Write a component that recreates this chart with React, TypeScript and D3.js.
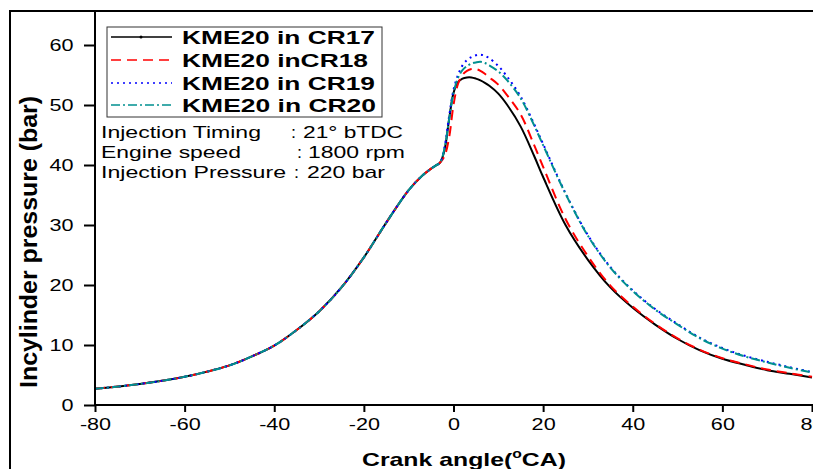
import React, { useRef, useEffect } from "react";
import * as d3 from "d3";

// crank angle (deg CA)
const angles = [
  -80, -70, -60, -50, -45, -40, -35, -30, -25, -20, -15, -10, -7, -5, -4, -3, -2, -1, 0, 1, 2, 3, 4, 5, 6, 7, 8,
  10, 12, 15, 18, 20, 25, 30, 35, 40, 45, 50, 55, 60, 65, 70, 75, 80,
];

// compression part, same for all (-80 .. -3)
const compression = [2.7, 3.5, 4.7, 6.6, 8.1, 9.9, 12.5, 15.6, 19.6, 24.6, 30.4, 35.8, 38.2, 39.4, 39.9, 40.4];

const cr17 = [42.5, 47.5, 52, 53.8, 54.4, 54.6, 54.6, 54.4, 54.1, 53.7, 53.2, 51.9, 50, 46.4, 41.5, 38, 30, 24.2, 19.6, 16.2, 13.4, 11, 9.1, 7.7, 6.7, 5.8, 5.2, 4.6];
const cr18 = [41.5, 44.5, 50, 53.5, 55, 55.7, 56, 56, 55.7, 55.2, 54.6, 53.4, 51.6, 48.4, 43.3, 39.7, 31, 24.8, 19.9, 16.4, 13.5, 11.1, 9.2, 7.8, 6.8, 5.9, 5.3, 4.7];
const cr19 = [43, 48, 52.5, 55, 56.6, 57.5, 58, 58.3, 58.4, 58.2, 57.8, 56.5, 54.7, 51.4, 46.8, 43.5, 35.3, 28.3, 23, 19.1, 16, 13.5, 11.2, 9.5, 8.2, 7.2, 6.3, 5.5];
const cr20 = [42.8, 47.5, 52, 54.5, 55.8, 56.5, 56.9, 57.1, 57.2, 57, 56.6, 55.6, 54.1, 51.1, 46.6, 43.3, 35.2, 28.2, 22.9, 19, 15.9, 13.4, 11.1, 9.4, 8.1, 7.1, 6.2, 5.4];

const seriesNames = ["KME20 in CR17", "KME20 inCR18", "KME20 in CR19", "KME20 in CR20"];
const seriesValues = [cr17, cr18, cr19, cr20];
const seriesColors = ["#000000", "#ff0000", "#0000ff", "#009090"];
const seriesDash = ["none", "10,6", "2,4", "9,3,2,3"];
const legendLengths = [193, 186, 193, 194];

const xTicks = [-80, -60, -40, -20, 0, 20, 40, 60, 80];
const yTicks = [0, 10, 20, 30, 40, 50, 60];

const App = () => {
  const ref = useRef<SVGSVGElement>(null);
  const width = 813;
  const height = 469;

  useEffect(() => {
    const svg = d3.select(ref.current);
    svg.selectAll("*").remove();

    const x = d3.scaleLinear().domain([-80, 80]).range([95, 812]);
    const y = d3.scaleLinear().domain([0, 65]).range([405, 15]);
    const sx = 1.35; // picture is stretched sideways

    // frame
    svg
      .append("path")
      .attr("d", `M10,${height + 5}V11H${width + 5}`)
      .attr("fill", "none")
      .attr("stroke", "#000")
      .attr("stroke-width", 2);

    // curves
    const line = d3
      .line<[number, number]>()
      .x((d) => x(d[0]))
      .y((d) => y(d[1]))
      .curve(d3.curveCatmullRom.alpha(0.5));

    seriesValues.forEach((vals, i) => {
      const all = compression.concat(vals);
      const pts = angles.map((a, j) => [a, all[j]] as [number, number]);
      svg
        .append("path")
        .attr("d", line(pts))
        .attr("fill", "none")
        .attr("stroke", seriesColors[i])
        .attr("stroke-width", 2)
        .attr("stroke-dasharray", seriesDash[i]);
    });

    // x axis
    const gx = svg.append("g").attr("transform", "translate(0,405)");
    gx.call(
      d3.axisBottom(x).tickValues(d3.range(-70, 80, 20)).tickSize(4).tickFormat(() => "")
    );
    gx.call(
      d3.axisBottom(x).tickValues(xTicks).tickSize(7).tickPadding(7).tickFormat((d) => String(d))
    );
    gx.selectAll(".domain").attr("d", "M95,0H813").attr("stroke-width", 2);
    gx.selectAll("line").attr("stroke-width", 2);
    gx.selectAll("text")
      .attr("font-family", "Arial, 'Liberation Sans', sans-serif")
      .attr("font-size", 16)
      .attr("fill", "#000")
      .attr("transform", `scale(${sx},1)`);

    // y axis
    const gy = svg.append("g").attr("transform", "translate(95,0)");
    gy.call(
      d3.axisLeft(y).tickValues(d3.range(5, 65, 10)).tickSize(6).tickFormat(() => "")
    );
    gy.call(
      d3.axisLeft(y).tickValues(yTicks).tickSize(11).tickPadding(5).tickFormat((d) => String(d))
    );
    gy.selectAll(".domain").attr("d", "M0,406V11").attr("stroke-width", 2);
    gy.selectAll("line").attr("stroke-width", 2);
    gy.selectAll("text")
      .attr("font-family", "Arial, 'Liberation Sans', sans-serif")
      .attr("font-size", 16)
      .attr("fill", "#000")
      .attr("transform", `scale(${sx},1)`);

    // axis titles
    const xt = svg
      .append("text")
      .attr("x", 362)
      .attr("y", 466)
      .attr("font-family", "Arial, 'Liberation Sans', sans-serif")
      .attr("font-weight", "bold")
      .attr("font-size", 19)
      .attr("textLength", 204)
      .attr("lengthAdjust", "spacingAndGlyphs");
    xt.append("tspan").text("Crank angle(");
    xt.append("tspan").attr("font-size", 12).attr("dy", -8).text("o");
    xt.append("tspan").attr("dy", 8).text("CA)");

    svg
      .append("text")
      .attr("transform", "translate(37,242) rotate(-90)")
      .attr("text-anchor", "middle")
      .attr("font-family", "'Liberation Sans Narrow', 'Arial Narrow', sans-serif")
      .attr("font-weight", "bold")
      .attr("font-size", 23)
      .attr("textLength", 292)
      .attr("lengthAdjust", "spacingAndGlyphs")
      .text("Incylinder pressure (bar)");

    // legend
    const lg = svg.append("g");
    lg.append("rect")
      .attr("x", 107)
      .attr("y", 27)
      .attr("width", 275)
      .attr("height", 90)
      .attr("fill", "#fff")
      .attr("stroke", "#333")
      .attr("stroke-width", 1);
    const rowY = [37, 60, 83, 105];
    seriesNames.forEach((name, i) => {
      lg.append("line")
        .attr("x1", 111)
        .attr("x2", 172)
        .attr("y1", rowY[i])
        .attr("y2", rowY[i])
        .attr("stroke", seriesColors[i])
        .attr("stroke-width", 1.5)
        .attr("stroke-dasharray", seriesDash[i]);
      if (i === 0) {
        lg.append("circle").attr("cx", 141).attr("cy", rowY[i]).attr("r", 1.5).attr("fill", "#000");
      }
      lg.append("text")
        .attr("x", 182)
        .attr("y", rowY[i] + 7)
        .attr("font-family", "Arial, 'Liberation Sans', sans-serif")
        .attr("font-weight", "bold")
        .attr("font-size", 19)
        .attr("textLength", legendLengths[i])
        .attr("lengthAdjust", "spacingAndGlyphs")
        .text(name);
    });

    // engine conditions
    const notes = [
      { label: "Injection Timing", lw: 160, colon: 291, value: "21° bTDC", vx: 303, vw: 100, y: 138 },
      { label: "Engine speed", lw: 140, colon: 297, value: "1800 rpm", vx: 308, vw: 97, y: 158 },
      { label: "Injection Pressure", lw: 185, colon: 294, value: "220 bar", vx: 307, vw: 78, y: 178 },
    ];
    notes.forEach((n) => {
      const common = (t: any) =>
        t
          .attr("font-family", "Arial, 'Liberation Sans', sans-serif")
          .attr("font-size", 17)
          .attr("lengthAdjust", "spacingAndGlyphs")
          .attr("y", n.y);
      common(svg.append("text")).attr("x", 101).attr("textLength", n.lw).text(n.label);
      common(svg.append("text")).attr("x", n.colon).attr("textLength", 5).text(":");
      common(svg.append("text")).attr("x", n.vx).attr("textLength", n.vw).text(n.value);
    });
  }, []);

  return (
    <svg
      ref={ref}
      width={width}
      height={height}
      style={{ position: "absolute", left: 0, top: 0, background: "#fff" }}
    />
  );
};

export default App;
